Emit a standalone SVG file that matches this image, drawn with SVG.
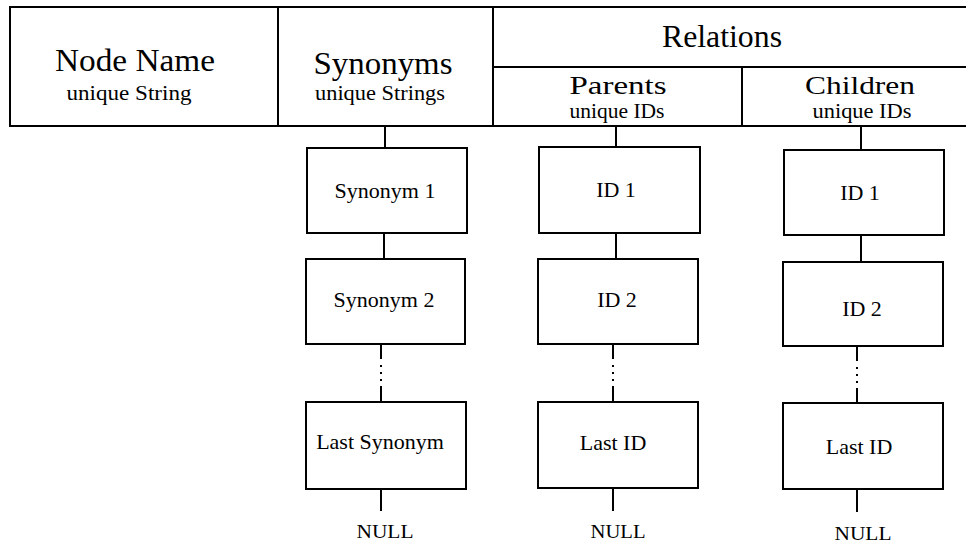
<svg xmlns="http://www.w3.org/2000/svg" width="966" height="544" viewBox="0 0 966 544" font-family="'Liberation Serif', 'Times New Roman', 'DejaVu Serif', serif">
<style>
  .bx { fill: #fff; stroke: #000; stroke-width: 2; }
  .ln { stroke: #000; stroke-width: 2; fill: none; }
  .dl { stroke: #000; stroke-width: 2; fill: none; stroke-dasharray: 15 6 2 5 2 5 2 5 30 0; }
  text { font-family: 'Liberation Serif', 'Times New Roman', 'DejaVu Serif', serif; fill: #000; text-anchor: middle; }
  .h1 { font-size: 32px; }
  .h2 { font-size: 26px; }
  .sub { font-size: 20px; }
  .lbl { font-size: 22px; }
  .nul { font-size: 18px; }
</style>
<rect width="966" height="544" fill="#fff"/>

<g id="header">
  <rect class="bx" x="10" y="7" width="970" height="119"/>
  <line class="ln" x1="278" y1="7" x2="278" y2="126"/>
  <line class="ln" x1="493" y1="7" x2="493" y2="126"/>
  <line class="ln" x1="493" y1="67" x2="980" y2="67"/>
  <line class="ln" x1="742" y1="67" x2="742" y2="126"/>
</g>
<g id="node-name">
  <text class="h1" x="135" y="71" textLength="160" lengthAdjust="spacingAndGlyphs">Node Name</text>
  <text class="sub" x="129" y="100" textLength="125" lengthAdjust="spacingAndGlyphs">unique String</text>
</g>
<g id="synonyms-head">
  <text class="h1" x="383" y="74" textLength="139" lengthAdjust="spacingAndGlyphs">Synonyms</text>
  <text class="sub" x="380" y="100" textLength="130" lengthAdjust="spacingAndGlyphs">unique Strings</text>
</g>
<g id="relations-head">
  <text class="h1" x="722" y="47" textLength="120" lengthAdjust="spacingAndGlyphs">Relations</text>
</g>
<g id="parents-head">
  <text class="h2" x="618" y="94" textLength="97" lengthAdjust="spacingAndGlyphs">Parents</text>
  <text class="sub" x="617" y="118" textLength="95" lengthAdjust="spacingAndGlyphs">unique IDs</text>
</g>
<g id="children-head">
  <text class="h2" x="860" y="94" textLength="110" lengthAdjust="spacingAndGlyphs">Children</text>
  <text class="sub" x="862" y="118" textLength="99" lengthAdjust="spacingAndGlyphs">unique IDs</text>
</g>

<g id="connectors">
  <line class="ln" x1="385" y1="126" x2="385" y2="148"/>
  <line class="ln" x1="384" y1="233" x2="384" y2="259"/>
  <line class="dl" x1="381" y1="344" x2="381" y2="402"/>
  <line class="ln" x1="381" y1="489" x2="381" y2="511"/>

  <line class="ln" x1="616" y1="126" x2="616" y2="147"/>
  <line class="ln" x1="616" y1="233" x2="616" y2="259"/>
  <line class="dl" x1="613" y1="344" x2="613" y2="402"/>
  <line class="ln" x1="613" y1="488" x2="613" y2="511"/>

  <line class="ln" x1="861" y1="126" x2="861" y2="150"/>
  <line class="ln" x1="861" y1="235" x2="861" y2="262"/>
  <line class="dl" x1="857" y1="346" x2="857" y2="403"/>
  <line class="ln" x1="857" y1="489" x2="857" y2="512"/>
</g>

<g id="synonym-1">
  <rect class="bx" x="307" y="148" width="160" height="85"/>
  <text class="lbl" x="385" y="198">Synonym 1</text>
</g>
<g id="synonym-2">
  <rect class="bx" x="306" y="259" width="159" height="85"/>
  <text class="lbl" x="384" y="307">Synonym 2</text>
</g>
<g id="last-synonym">
  <rect class="bx" x="306" y="402" width="160" height="87"/>
  <text class="lbl" x="380" y="449">Last Synonym</text>
</g>
<g id="null-synonyms">
  <text class="nul" x="385" y="538" textLength="57" lengthAdjust="spacingAndGlyphs">NULL</text>
</g>

<g id="parent-id-1">
  <rect class="bx" x="539" y="147" width="161" height="86"/>
  <text class="lbl" x="616" y="197">ID 1</text>
</g>
<g id="parent-id-2">
  <rect class="bx" x="538" y="259" width="160" height="85"/>
  <text class="lbl" x="617" y="307">ID 2</text>
</g>
<g id="parent-last-id">
  <rect class="bx" x="538" y="402" width="160" height="86"/>
  <text class="lbl" x="613" y="450">Last ID</text>
</g>
<g id="null-parents">
  <text class="nul" x="618" y="538" textLength="55" lengthAdjust="spacingAndGlyphs">NULL</text>
</g>

<g id="child-id-1">
  <rect class="bx" x="784" y="150" width="160" height="85"/>
  <text class="lbl" x="860" y="200">ID 1</text>
</g>
<g id="child-id-2">
  <rect class="bx" x="783" y="262" width="160" height="84"/>
  <text class="lbl" x="862" y="316">ID 2</text>
</g>
<g id="child-last-id">
  <rect class="bx" x="783" y="403" width="160" height="86"/>
  <text class="lbl" x="859" y="454">Last ID</text>
</g>
<g id="null-children">
  <text class="nul" x="863" y="540" textLength="57" lengthAdjust="spacingAndGlyphs">NULL</text>
</g>
</svg>
